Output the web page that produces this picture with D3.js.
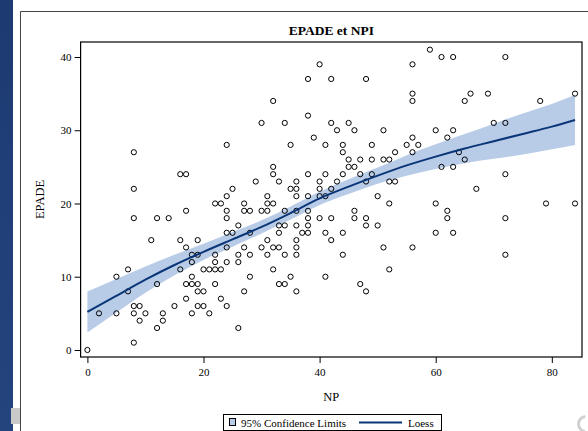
<!DOCTYPE html>
<html>
<head>
<meta charset="utf-8">
<script src="https://cdn.jsdelivr.net/npm/d3@7"></script>
<style>
  body { margin: 0; background: #fff; }
  svg { display: block; }
  text { font-family: "Liberation Serif", "Times New Roman", serif; fill: #000; }
</style>
</head>
<body>
<script>
// scatter points: NP and EPADE
var pts = [[0,0],[2,5],[5,5],[5,10],[7,11],[7,8],[8,1],[8,5],[8,6],[9,6],[9,4],[10,5],[8,18],[8,22],[8,27],[11,15],[12,18],[14,18],[12,9],[12,3],[13,5],[13,4],[15,6],[16,11],[16,15],[16,24],[17,24],[17,19],[17,14],[17,9],[17,7],[18,13],[18,12],[18,10],[18,9],[18,5],[19,15],[19,13],[19,9],[19,8],[19,6],[20,11],[20,8],[20,6],[21,11],[21,5],[22,20],[22,13],[22,12],[22,11],[22,9],[23,20],[23,11],[23,7],[24,28],[24,21],[24,19],[24,18],[24,16],[24,14],[24,12],[24,6],[25,22],[25,16],[26,17],[26,13],[26,12],[26,3],[27,20],[27,19],[27,14],[27,8],[28,19],[28,16],[28,13],[28,10],[29,23],[30,31],[30,19],[30,14],[31,21],[31,20],[31,19],[31,15],[31,13],[32,34],[32,25],[32,24],[32,20],[32,14],[32,11],[33,23],[33,17],[33,16],[33,14],[33,9],[34,31],[34,19],[34,17],[34,13],[34,9],[35,28],[35,22],[35,10],[36,23],[36,22],[36,21],[36,19],[36,17],[36,15],[36,14],[36,13],[36,8],[37,16],[38,37],[38,32],[38,24],[38,21],[38,19],[38,18],[38,17],[38,16],[39,29],[40,39],[40,23],[40,22],[40,21],[40,18],[41,28],[41,24],[41,21],[41,16],[41,10],[42,37],[42,31],[42,22],[42,18],[42,15],[43,30],[43,23],[44,28],[44,27],[44,24],[44,16],[44,13],[45,31],[45,26],[45,25],[46,30],[46,25],[46,19],[46,18],[47,26],[47,24],[47,9],[48,37],[48,23],[48,18],[48,17],[48,8],[49,28],[49,26],[49,24],[50,21],[50,17],[51,30],[51,26],[51,14],[52,26],[52,23],[52,20],[52,11],[53,27],[53,23],[55,28],[56,39],[56,35],[56,34],[56,29],[56,27],[56,14],[57,28],[59,41],[60,30],[60,20],[60,16],[61,40],[61,25],[62,29],[62,19],[62,18],[63,40],[63,30],[63,25],[63,16],[64,27],[65,34],[65,26],[66,35],[67,22],[69,35],[70,31],[72,40],[72,31],[72,24],[72,18],[72,13],[78,34],[79,20],[84,35],[84,20]];
var npVals = pts.map(function(p) { return p[0]; });
var epadeVals = pts.map(function(p) { return p[1]; });

// loess fit and 95% limits
var loessX     = [0, 5, 10, 15, 20, 25, 30, 35, 40, 45, 50, 55, 60, 65, 70, 75, 80, 84];
var loessFit   = [5.2, 7.4, 9.6, 11.6, 13.4, 15.1, 16.8, 18.7, 20.7, 22.3, 23.8, 25.2, 26.4, 27.5, 28.5, 29.5, 30.5, 31.4];
var loessLower = [2.4, 5.1, 7.8, 10.2, 12.3, 14.1, 15.9, 17.8, 19.8, 21.3, 22.7, 23.8, 24.7, 25.5, 26.1, 26.7, 27.4, 28.0];
var loessUpper = [8.0, 9.7, 11.4, 13.0, 14.5, 16.1, 17.7, 19.6, 21.6, 23.3, 24.9, 26.6, 28.1, 29.5, 30.9, 32.3, 33.6, 34.8];

var xTicks = [0, 20, 40, 60, 80];
var yTicks = [0, 10, 20, 30, 40];

var W = 588, H = 431;
var plot = {left: 80.6, top: 42, right: 582, bottom: 357};

var svg = d3.select("body").append("svg")
    .attr("width", W)
    .attr("height", H);

// slide background strip on the left
var grad = svg.append("defs").append("linearGradient")
    .attr("id", "strip").attr("x1", 0).attr("x2", 0).attr("y1", 0).attr("y2", 1);
grad.append("stop").attr("offset", "0%").attr("stop-color", "#1d3a72");
grad.append("stop").attr("offset", "100%").attr("stop-color", "#24447e");
svg.append("rect").attr("x", 0).attr("y", 0).attr("width", 13).attr("height", H)
    .attr("fill", "url(#strip)");
svg.append("rect").attr("x", 11).attr("y", 408).attr("width", 9).attr("height", 16)
    .attr("fill", "#c9c9c9");

// outer graph border
svg.append("path")
    .attr("d", "M20.5," + H + "V11.5H" + W)
    .attr("fill", "none").attr("stroke", "#444").attr("stroke-width", 1);

// partial grey ring in the bottom-right corner
svg.append("path")
    .attr("d", d3.arc().innerRadius(6).outerRadius(9).startAngle(-3.0).endAngle(-0.1)())
    .attr("transform", "translate(586,424)")
    .attr("fill", "#d0d0d0");

var x = d3.scaleLinear().domain([-1.17, 85.2]).range([plot.left, plot.right]);
var y = d3.scaleLinear().domain([-0.96, 42.05]).range([plot.bottom, plot.top]);

var g = svg.append("g");

// confidence band
var band = d3.area()
    .x(function(d, i) { return x(loessX[i]); })
    .y0(function(d, i) { return y(loessLower[i]); })
    .y1(function(d, i) { return y(loessUpper[i]); })
    .curve(d3.curveMonotoneX);
g.append("path")
    .datum(loessX)
    .attr("d", band)
    .attr("fill", "#b8cce8");

// points
g.selectAll(".pt")
    .data(npVals)
  .enter().append("circle")
    .attr("class", "pt")
    .attr("cx", function(d) { return x(d); })
    .attr("cy", function(d, i) { return y(epadeVals[i]); })
    .attr("r", 2.6)
    .attr("fill", "none")
    .attr("stroke", "#000")
    .attr("stroke-width", 1);

// loess line
var line = d3.line()
    .x(function(d, i) { return x(loessX[i]); })
    .y(function(d, i) { return y(loessFit[i]); })
    .curve(d3.curveMonotoneX);
g.append("path")
    .datum(loessX)
    .attr("d", line)
    .attr("fill", "none")
    .attr("stroke", "#0a3678")
    .attr("stroke-width", 2);

// frame
svg.append("rect")
    .attr("x", plot.left).attr("y", plot.top)
    .attr("width", plot.right - plot.left).attr("height", plot.bottom - plot.top)
    .attr("fill", "none").attr("stroke", "#000").attr("stroke-width", 1.2);

// axes
var xAxis = d3.axisBottom(x).tickValues(xTicks).tickSize(6).tickPadding(5);
var xg = svg.append("g")
    .attr("transform", "translate(0," + plot.bottom + ")")
    .call(xAxis);
xg.select(".domain").remove();

var yAxis = d3.axisLeft(y).tickValues(yTicks).tickSize(6).tickPadding(3);
var yg = svg.append("g")
    .attr("transform", "translate(" + plot.left + ",0)")
    .call(yAxis);
yg.select(".domain").remove();

svg.selectAll(".tick text")
    .attr("font-family", "Liberation Serif, serif")
    .attr("font-size", 11)
    .attr("fill", "#000");
svg.selectAll(".tick line").attr("stroke", "#000");

// title and axis labels
svg.append("text")
    .attr("x", (plot.left + plot.right) / 2).attr("y", 35)
    .attr("text-anchor", "middle")
    .attr("font-size", 13.5).attr("font-weight", "bold")
    .text("EPADE et NPI");

svg.append("text")
    .attr("x", (plot.left + plot.right) / 2).attr("y", 401)
    .attr("text-anchor", "middle")
    .attr("font-size", 12.5)
    .text("NP");

svg.append("text")
    .attr("transform", "translate(44," + ((plot.top + plot.bottom) / 2) + ") rotate(-90)")
    .attr("text-anchor", "middle")
    .attr("font-size", 12.5)
    .text("EPADE");

// legend
var lg = svg.append("g").attr("transform", "translate(223,414)");
lg.append("rect").attr("x", 0.5).attr("y", 0.5).attr("width", 218).attr("height", 16)
    .attr("fill", "#fff").attr("stroke", "#000");
lg.append("rect").attr("x", 6.5).attr("y", 4.5).attr("width", 6).attr("height", 7)
    .attr("fill", "#b8cce8").attr("stroke", "#000");
lg.append("text").attr("x", 18).attr("y", 12.5).attr("font-size", 11)
    .text("95% Confidence Limits");
lg.append("line").attr("x1", 136).attr("x2", 179).attr("y1", 8.5).attr("y2", 8.5)
    .attr("stroke", "#0a3678").attr("stroke-width", 2);
lg.append("text").attr("x", 185).attr("y", 12.5).attr("font-size", 11)
    .text("Loess");
</script>
</body>
</html>
